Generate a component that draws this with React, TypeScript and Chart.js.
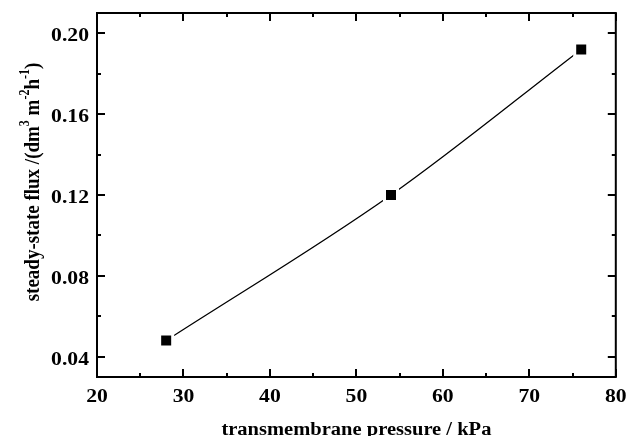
import React, { useEffect, useRef } from "react";
import { Chart, registerables } from "chart.js";

Chart.register(...registerables);

// ---- data ----
const pressure = [28, 54, 76];
const flux = [0.048, 0.12, 0.192];

const xMajorTicks = [20, 30, 40, 50, 60, 70, 80];
const xMinorTicks = [25, 35, 45, 55, 65, 75];
const yMajorTicks = [0.04, 0.08, 0.12, 0.16, 0.2];
const yMinorTicks = [0.06, 0.1, 0.14, 0.18];
const xTickLabels = ["20", "30", "40", "50", "60", "70", "80"];
const yTickLabels = ["0.04", "0.08", "0.12", "0.16", "0.20"];
const xRange = [20, 80];
const yRange = [0.03, 0.21];

const xTitle = "transmembrane pressure / kPa";
const yTitleParts = [
  { t: "steady-state flux /(dm", sup: false },
  { t: "3", sup: true },
  { t: " m", sup: false },
  { t: "-2", sup: true },
  { t: "h", sup: false },
  { t: "-1", sup: true },
  { t: ")", sup: false },
];

const FAMILY = '"Liberation Serif", "DejaVu Serif", serif';
const STRETCH = 1.14;

const decorPlugin = {
  id: "decor",
  afterDraw(chart: any) {
    const { ctx, chartArea: a, scales } = chart;
    const xs = scales.x;
    const ys = scales.y;
    ctx.save();
    ctx.strokeStyle = "#000";
    ctx.fillStyle = "#000";
    ctx.lineWidth = 2;
    ctx.beginPath();
    ctx.rect(a.left, a.top, a.right - a.left, a.bottom - a.top);
    ctx.stroke();

    const drawX = (vals: number[], len: number) => {
      vals.forEach((v) => {
        const px = Math.round(xs.getPixelForValue(v));
        ctx.beginPath();
        ctx.moveTo(px, a.bottom);
        ctx.lineTo(px, a.bottom - len);
        ctx.moveTo(px, a.top);
        ctx.lineTo(px, a.top + len);
        ctx.stroke();
      });
    };
    const drawY = (vals: number[], len: number) => {
      vals.forEach((v) => {
        const py = Math.round(ys.getPixelForValue(v));
        ctx.beginPath();
        ctx.moveTo(a.left, py);
        ctx.lineTo(a.left + len, py);
        ctx.moveTo(a.right, py);
        ctx.lineTo(a.right - len, py);
        ctx.stroke();
      });
    };
    drawX(xMajorTicks, 8);
    drawX(xMinorTicks, 4);
    drawY(yMajorTicks, 8);
    drawY(yMinorTicks, 4);

    const text = (s: string, x: number, y: number, align: string, font: string) => {
      ctx.save();
      ctx.translate(x, y);
      ctx.scale(STRETCH, 1);
      ctx.font = font;
      ctx.textAlign = align;
      ctx.textBaseline = "alphabetic";
      ctx.fillText(s, 0, 0);
      ctx.restore();
    };

    const tickFont = `bold 19px ${FAMILY}`;
    xMajorTicks.forEach((v, i) => {
      text(xTickLabels[i], xs.getPixelForValue(v), a.bottom + 25, "center", tickFont);
    });
    yMajorTicks.forEach((v, i) => {
      text(yTickLabels[i], a.left - 8, ys.getPixelForValue(v) + 8, "right", tickFont);
    });

    // x title
    text(xTitle, (a.left + a.right) / 2, 435, "center", `bold 18px ${FAMILY}`);

    // y title with superscripts
    const mainFont = `bold 19px ${FAMILY}`;
    const supFont = `bold 12px ${FAMILY}`;
    let total = 0;
    const widths = yTitleParts.map((p) => {
      ctx.font = p.sup ? supFont : mainFont;
      const w = ctx.measureText(p.t).width;
      total += w;
      return w;
    });
    ctx.save();
    ctx.translate(38.5, 182);
    ctx.rotate(-Math.PI / 2);
    ctx.scale(1, STRETCH);
    ctx.textAlign = "left";
    ctx.textBaseline = "alphabetic";
    let cx = -total / 2;
    yTitleParts.forEach((p, i) => {
      ctx.font = p.sup ? supFont : mainFont;
      ctx.fillText(p.t, cx, p.sup ? -8.5 : 0);
      cx += widths[i];
    });
    ctx.restore();
    ctx.restore();
  },
};

export default function App() {
  const ref = useRef<HTMLCanvasElement | null>(null);

  useEffect(() => {
    document.body.style.margin = "0";
    if (!ref.current) return;
    const chart = new Chart(ref.current, {
      type: "scatter",
      data: {
        datasets: [
          {
            data: pressure.map((x, i) => ({ x, y: flux[i] })),
            showLine: true,
            borderColor: "#000",
            borderWidth: 1.3,
            cubicInterpolationMode: "monotone",
            pointStyle: "rect",
            pointRadius: 9.2,
            pointHoverRadius: 9.2,
            pointBackgroundColor: "#000",
            pointBorderColor: "#fff",
            pointBorderWidth: 3,
          },
        ],
      },
      options: {
        animation: false,
        responsive: false,
        events: [],
        layout: { padding: { left: 0, top: 13, right: 11, bottom: 0 } },
        plugins: {
          legend: { display: false },
          tooltip: { enabled: false },
        },
        scales: {
          x: {
            type: "linear",
            min: xRange[0],
            max: xRange[1],
            grid: { display: false, drawTicks: false },
            border: { display: false },
            afterBuildTicks: (s: any) => {
              s.ticks = xMajorTicks.map((v) => ({ value: v }));
            },
            afterFit: (s: any) => {
              s.height = 59;
            },
            ticks: { display: false },
          },
          y: {
            type: "linear",
            min: yRange[0],
            max: yRange[1],
            grid: { display: false, drawTicks: false },
            border: { display: false },
            afterBuildTicks: (s: any) => {
              s.ticks = yMajorTicks.map((v) => ({ value: v }));
            },
            afterFit: (s: any) => {
              s.width = 97;
            },
            ticks: { display: false },
          },
        },
      },
      plugins: [decorPlugin],
    } as any);
    return () => chart.destroy();
  }, []);

  return <canvas ref={ref} width={628} height={436} style={{ display: "block" }} />;
}
